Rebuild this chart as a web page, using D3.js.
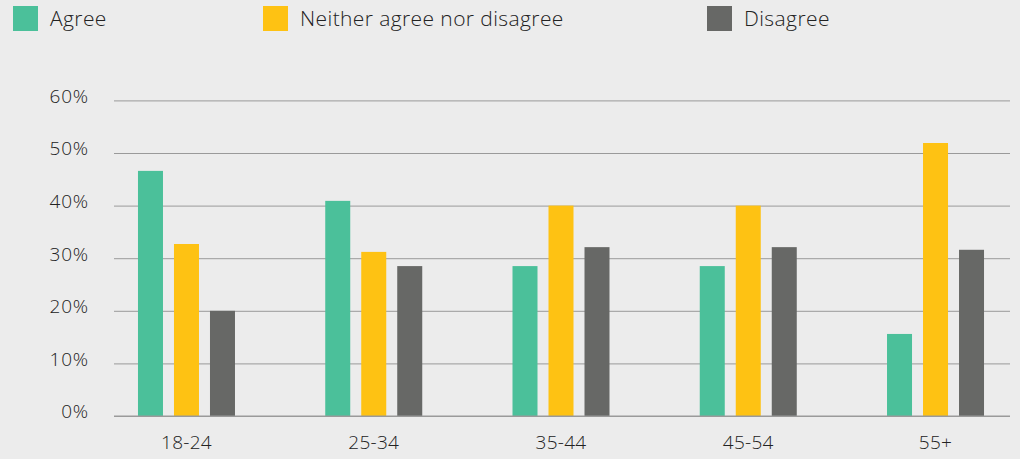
<!DOCTYPE html>
<html><head><meta charset="utf-8">
<script src="https://cdn.jsdelivr.net/npm/d3@7"></script>
<style>
html,body{margin:0;padding:0;background:#ececec;}
svg{display:block;font-family:"Open Sans",Lato,sans-serif;}
</style></head>
<body>
<svg id="chart" width="1020" height="459"></svg>
<script>
const categories = ["18-24","25-34","35-44","45-54","55+"];
const seriesNames = ["Agree","Neither agree nor disagree","Disagree"];
const agree = [46.6, 40.9, 28.5, 28.5, 15.6];
const neither = [32.7, 31.2, 40.0, 40.0, 51.9];
const disagree = [20.0, 28.5, 32.1, 32.1, 31.6];
const yTicks = [0,10,20,30,40,50,60];
const colors = ["#4bc09a","#fec213","#676866"];

const seriesValues = [agree, neither, disagree];
const svg = d3.select("#chart");
const FONT = "'Open Sans',Lato,sans-serif";

const y = d3.scaleLinear().domain([0,60]).range([416,100.4]);
const x0 = d3.scaleBand().domain(categories).range([92.85,1029.15]).paddingInner(0.482).paddingOuter(0.241);
const x1 = d3.scaleBand().domain(seriesNames).range([0,x0.bandwidth()]).paddingInner(11/36).paddingOuter(0);

// gridlines
const yAxis = d3.axisLeft(y).tickValues(yTicks).tickFormat(d=>d+"%").tickSize(-(1010-114)).tickPadding(25);
const gy = svg.append("g").attr("transform","translate(114,0)").call(yAxis);
gy.select(".domain").remove();
gy.selectAll(".tick line").attr("stroke","#9a9a9a").attr("stroke-width",1);
gy.selectAll(".tick text").attr("fill","#222").attr("font-size","19px").attr("font-weight",300)
  .attr("letter-spacing","0.8px").attr("dy","0.1em").style("font-family",FONT);

// bars
const groups = svg.append("g").selectAll("g").data(categories).join("g")
  .attr("transform", d=>`translate(${x0(d)},0)`);
groups.selectAll("rect").data((d,i)=>seriesNames.map((s,j)=>({s, v: seriesValues[j][i], j})))
  .join("rect")
  .attr("x", d=>x1(d.s))
  .attr("width", x1.bandwidth())
  .attr("y", d=>y(d.v))
  .attr("height", d=>y(0)-y(d.v))
  .attr("fill", d=>colors[d.j]);

// baseline over bars
svg.append("line").attr("x1",114).attr("x2",1010).attr("y1",y(0)).attr("y2",y(0)).attr("stroke","#9a9a9a");

// x axis labels
const xAxis = d3.axisBottom(x0).tickSize(0).tickPadding(20);
const gx = svg.append("g").attr("transform",`translate(0,${y(0)})`).call(xAxis);
gx.select(".domain").remove();
gx.selectAll(".tick text").attr("fill","#222").attr("font-size","19px").attr("font-weight",300)
  .attr("letter-spacing","0.3px").style("font-family",FONT);

// legend
const legendX = [13, 263, 707];
const leg = svg.append("g").selectAll("g").data(seriesNames).join("g")
  .attr("transform",(d,i)=>`translate(${legendX[i]},6)`);
leg.append("rect").attr("width",25).attr("height",25).attr("fill",(d,i)=>colors[i]);
leg.append("text").attr("x",37).attr("y",20).text(d=>d)
  .attr("fill","#222").attr("font-size","21px").attr("font-weight",300).attr("letter-spacing","0.4px")
  .style("font-family",FONT);
</script>
</body></html>
